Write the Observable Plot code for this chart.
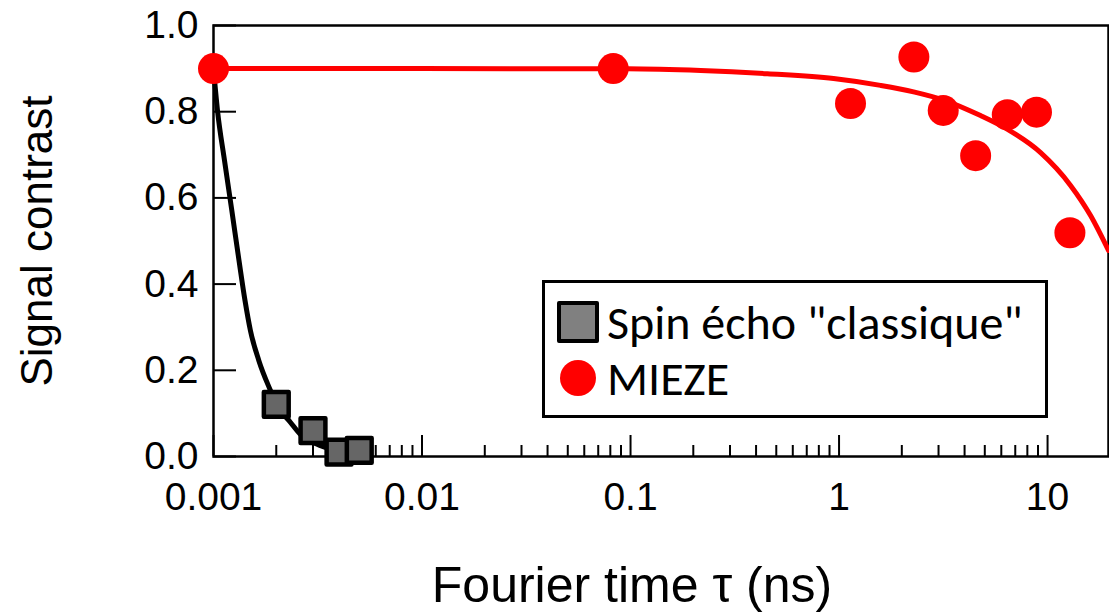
<!DOCTYPE html>
<html>
<head>
<meta charset="utf-8">
<script src="https://cdn.jsdelivr.net/npm/d3@7"></script>
<script src="https://cdn.jsdelivr.net/npm/@observablehq/plot@0.6"></script>
<style>
  html, body { margin: 0; padding: 0; background: #fff; }
  #wrap { position: relative; width: 1109px; height: 613px; overflow: hidden; }
  #legend {
    position: absolute; left: 542px; top: 280px; width: 500px; height: 132px;
    border: 3.5px solid #000; background: #fff;
    font-family: "Carlito", "Lato", sans-serif; font-size: 48px; color: #000;
  }
  .row { position: absolute; left: 0; height: 50px; display: flex; align-items: center; white-space: nowrap; }
  .sw-sq { position: absolute; left: 12px; width: 34px; height: 34px; border: 4px solid #000; background: #808080; border-radius: 2px; }
  .sw-ci { position: absolute; left: 15px; width: 36px; height: 36px; border-radius: 50%; background: #ff0000; }
  .lbl { position: absolute; left: 62px; }
</style>
</head>
<body>
<div id="wrap"></div>
<script>
// Spin echo "classique" (squares)
const seTau = [0.002, 0.003, 0.004, 0.005];
const seVal = [0.121, 0.060, 0.010, 0.014];
// Spin echo fit curve
const seFitTau = [0.001, 0.001045, 0.001129, 0.001224, 0.001325, 0.001416, 0.001504, 0.001649, 0.001876, 0.002004, 0.002341, 0.002613, 0.003086, 0.003847, 0.00496];
const seFitVal = [0.900, 0.803, 0.687, 0.571, 0.455, 0.362, 0.292, 0.223, 0.153, 0.121, 0.079, 0.051, 0.030, 0.014, 0.007];
// MIEZE (circles)
const mzTau = [0.001, 0.0826, 1.135, 2.285, 3.16, 4.52, 6.41, 8.85, 12.8];
const mzVal = [0.90, 0.90, 0.819, 0.927, 0.803, 0.698, 0.793, 0.799, 0.519];
// MIEZE fit curve
const mzFitTau = [0.001, 0.01, 0.0964, 0.217, 0.453, 0.941, 1.58, 2.277, 3.17, 4.77, 6.43, 9.26, 12.89, 16.08, 19.6];
const mzFitVal = [0.900, 0.900, 0.8996, 0.8956, 0.888, 0.877, 0.861, 0.846, 0.827, 0.791, 0.759, 0.705, 0.629, 0.559, 0.478];

const xMajor = [0.001, 0.01, 0.1, 1, 10];
const xMajorLabels = ["0.001", "0.01", "0.1", "1", "10"];
const xMinorMult = [2, 3, 4, 5, 6, 7, 8, 9];
const yTicks = [0, 0.2, 0.4, 0.6, 0.8, 1.0];
const yTickLabels = ["0.0", "0.2", "0.4", "0.6", "0.8", "1.0"];
const xTitle = "Fourier time \u03C4 (ns)";
const yTitle = "Signal contrast";
const legendLabels = ["Spin \u00E9cho \"classique\"", "MIEZE"];

const xMinor = xMajor.flatMap(d => xMinorMult.map(k => +(k * d).toPrecision(3))).filter(v => v < 19.6);
const zip = (a, b) => a.map((t, i) => ({t, v: b[i]}));
const se = zip(seTau, seVal), seFit = zip(seFitTau, seFitVal);
const mz = zip(mzTau, mzVal), mzFit = zip(mzFitTau, mzFitVal);

const chart = Plot.plot({
  width: 1109, height: 613,
  marginLeft: 213, marginRight: 1, marginTop: 25, marginBottom: 157,
  x: {type: "log", domain: [0.001, 19.6]},
  y: {domain: [0, 1]},
  style: {fontFamily: "'Liberation Sans', Arial, sans-serif", fontSize: "39px", color: "#000", background: "#fff", overflow: "visible"},
  marks: [
    Plot.axisX({ticks: xMinor, tickSize: -11, strokeWidth: 2, tickFormat: () => "", label: null}),
    Plot.axisX({ticks: xMajor, tickSize: -21, strokeWidth: 2, tickFormat: () => "", label: null}),
    Plot.axisX({ticks: xMajor, tickSize: 0, tickPadding: 26, fontSize: 39, tickFormat: d => xMajorLabels[xMajor.indexOf(d)], label: null}),
    Plot.axisY({ticks: yTicks, tickSize: -23, strokeWidth: 2, tickFormat: () => "", label: null}),
    Plot.axisY({ticks: yTicks, tickSize: 0, tickPadding: 15, fontSize: 39, tickFormat: d => yTickLabels[yTicks.indexOf(d)], label: null}),
    Plot.frame({stroke: "#000", strokeWidth: 2.5}),
    Plot.line(seFit, {x: "t", y: "v", stroke: "#000", strokeWidth: 5, curve: "monotone-x"}),
    Plot.line(mzFit, {x: "t", y: "v", stroke: "#ff0000", strokeWidth: 5, curve: "monotone-x"}),
    Plot.dot(se, {x: "t", y: "v", symbol: "square", r: 14, fill: "#666666", stroke: "#000", strokeWidth: 4.5, strokeLinejoin: "round"}),
    Plot.dot(mz, {x: "t", y: "v", r: 15.5, fill: "#ff0000", stroke: "none"}),
    Plot.text([yTitle], {text: d => d, frameAnchor: "left", textAnchor: "middle", dx: -176, rotate: -90, fontSize: 44, lineAnchor: "middle"}),
    Plot.text([xTitle], {text: d => d, frameAnchor: "bottom", textAnchor: "middle", dx: -29, dy: 129, fontSize: 50, lineAnchor: "middle"})
  ]
});

const wrap = document.getElementById("wrap");
wrap.appendChild(chart);
const legend = document.createElement("div");
legend.id = "legend";
legend.innerHTML = `
  <div class="row" style="top:14px;width:100%"><div class="sw-sq"></div><span class="lbl">${legendLabels[0]}</span></div>
  <div class="row" style="top:70px;width:100%"><div class="sw-ci"></div><span class="lbl">${legendLabels[1]}</span></div>`;
wrap.appendChild(legend);
</script>
</body>
</html>
